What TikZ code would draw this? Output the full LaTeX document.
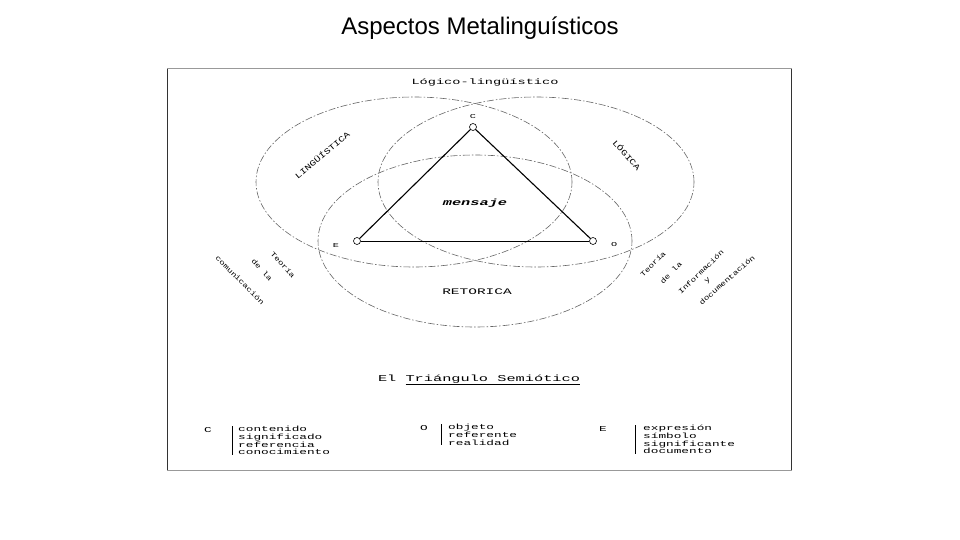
\documentclass[tikz,border=0pt]{standalone}
\usepackage{fontspec}
\setsansfont{Liberation Sans}
\newfontfamily\maquina[FakeStretch=1.7]{Liberation Mono}
\newfontfamily\maquinarot[FakeStretch=1.3]{Liberation Mono}
\usetikzlibrary{positioning}
\tikzset{
  campo/.style={draw=black!60, line width=0.6pt, dash pattern=on 7pt off 2pt on 1.5pt off 2pt},
  vertice/.style={circle, draw, line width=0.6pt, inner sep=0pt, minimum size=7pt, fill=white},
  lado/.style={line width=1.1pt},
  texto/.style={font=\maquina\fontsize{7.5}{7.7}\selectfont, inner sep=0pt},
  rotulo/.style={font=\maquinarot\fontsize{7}{8}\selectfont, inner sep=0pt},
  barra/.style={line width=0.8pt}
}

\begin{document}
\begin{tikzpicture}[x=1pt, y=-1pt]
% Page and frame of the scanned figure
\fill[white] (0,0) rectangle (960,540);
\useasboundingbox (0,0) rectangle (960,540);
\node[font=\sffamily\fontsize{24}{28}\selectfont, anchor=base] (titulo) at (480,35) {Aspectos Metalinguísticos};
\draw[black!40, line width=1pt] (167,69) rectangle (791,470);
\draw[black!80, line width=1pt] (167,69) -- (167,470) (791,69) -- (791,470);

% Draw the three overlapping fields
\draw[campo] (414,182) ellipse [x radius=158pt, y radius=85pt];
\draw[campo] (536,182) ellipse [x radius=158pt, y radius=85pt];
\draw[campo] (475,241) ellipse [x radius=157pt, y radius=86pt];

% Field labels
\node[texto, font=\maquina\fontsize{8}{9}\selectfont] (logling) at (485,82) {Lógico-lingüístico};
\node[rotulo, font=\maquinarot\fontsize{8}{9}\selectfont, rotate=40] (ling) at (322,155) {LINGÜÍSTICA};
\node[rotulo, font=\maquinarot\fontsize{8}{9}\selectfont, rotate=-48] (logica) at (627,155) {LÓGICA};
\node[texto, font=\maquina\fontsize{8.5}{9}\selectfont] (retorica) at (477,292) {RETORICA};

% Draw the semiotic triangle
\node[vertice] (C) at (473,127) {};
\node[vertice] (E) at (357,241) {};
\node[vertice] (O) at (593,241) {};
\draw[lado] (C) -- (E);
\draw[lado] (C) -- (O);
\draw[line width=0.6pt] (E) -- (O);
\node[texto, font=\maquina\fontsize{6}{7}\selectfont, above=4pt of C] (lC) {C};
\node[texto, font=\maquina\fontsize{6}{7}\selectfont, left=14pt of E, yshift=-5pt] (lE) {E};
\node[texto, font=\maquina\fontsize{6}{7}\selectfont, right=14pt of O, yshift=-4pt] (lO) {O};
\node[texto, font=\maquina\fontsize{9}{10}\selectfont\bfseries\itshape] (mensaje) at (475,203) {mensaje};

% Theories on both sides
\node[rotulo, rotate=-48] (tc1) at (283,265) {Teoría};
\node[rotulo, rotate=-48] (tc2) at (262,270) {de la};
\node[rotulo, rotate=-45] (tc3) at (240,280) {comunicación};
\node[rotulo, rotate=45] (ti1) at (653,264) {Teoría};
\node[rotulo, rotate=45] (ti2) at (671,273) {de la};
\node[rotulo, rotate=44] (ti3) at (701,272) {Información};
\node[rotulo, rotate=42] (ti4) at (708,281) {y};
\node[rotulo, rotate=41] (ti5) at (727,280) {documentación};

% Caption and legend
\node[texto, font=\maquina\fontsize{9}{10}\selectfont] (leyenda) at (479,380) {El \underline{Triángulo Semiótico}};
\node[texto] (kC) at (208,430) {C};
\node[texto, align=left, anchor=north west] (lc) at (238,426) {contenido\\significado\\referencia\\conocimiento};
\draw[barra] ([xshift=-6pt]lc.north west) -- ([xshift=-6pt]lc.south west);
\node[texto] (kO) at (424,428) {O};
\node[texto, align=left, anchor=north west] (lo) at (448,424) {objeto\\referente\\realidad};
\draw[barra] ([xshift=-7pt]lo.north west) -- ([xshift=-7pt]lo.south west);
\node[texto] (kE) at (603,429) {E};
\node[texto, align=left, anchor=north west] (le) at (643,425) {expresión\\símbolo\\significante\\documento};
\draw[barra] ([xshift=-8pt]le.north west) -- ([xshift=-8pt]le.south west);
\end{tikzpicture}
\end{document}
